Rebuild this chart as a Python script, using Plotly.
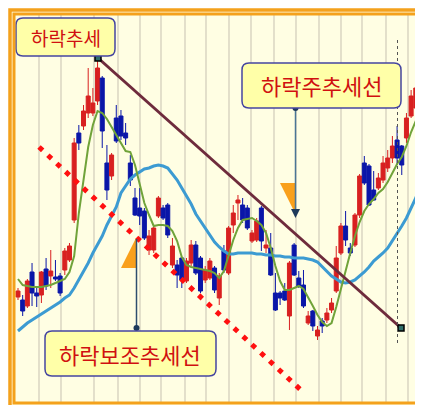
import plotly.graph_objects as go

W, H = 423, 405

# ---------------- data (price units = 400 - pixel row of the picture) ----------------
idx = list(range(87))
open_ = [111,108,102,136,115,113,139,132,131,132,138,148,188,275,282,295,295,307,330,245,
         232,290,292,275,245,210,200,197,158,158,192,200,203,143,143,150,127,145,163,150,
         128,130,140,110,157,135,183,205,203,200,167,168,200,160,160,115,115,117,92,163,
         130,123,85,97,72,87,88,98,117,155,182,160,163,193,245,242,218,220,228,240,
         250,268,262,270,292,300,312]
high_ = [120,113,129,145,120,137,150,158,148,135,160,165,270,283,303,340,320,350,332,263,
         255,303,298,285,253,220,220,200,178,182,212,203,205,170,148,150,150,168,167,152,
         142,150,142,135,163,182,203,213,210,203,178,190,202,178,175,135,117,125,147,165,
         137,138,97,98,82,90,100,110,162,185,197,165,195,234,252,244,237,235,252,258,
         272,282,263,295,318,325,330]
low_ = [108,92,100,102,101,105,118,120,127,112,133,146,185,258,278,290,292,303,260,208,
        228,265,268,263,222,192,183,168,153,155,190,188,170,140,120,120,125,142,133,115,
        125,128,115,103,135,133,175,188,185,178,165,166,157,155,132,97,103,107,78,132,
        120,100,83,77,68,75,85,95,115,153,162,152,161,190,223,202,207,218,225,236,
        245,243,233,265,290,295,303]
close_ = [117,97,127,115,112,136,122,137,129,115,157,162,265,265,297,312,305,340,277,218,
          253,267,272,270,228,193,192,170,172,180,210,190,173,162,133,128,147,163,135,117,
          138,147,118,132,138,180,195,208,188,180,175,187,167,163,133,98,110,108,145,133,
          122,102,92,82,78,82,95,105,150,182,168,155,193,232,225,203,208,230,245,250,
          262,250,243,290,312,320,305]
ma_short = [129,123,122,121,121,121,122,123,125,127,129,136,152,195,229,261,283,297,295,289,
            281,273,265,257,256,243,224,205,193,182,183,183,182,177,167,151,143,141,140,139,
            138,137,135,130,137,152,168,180,188,189,190,187,183,175,160,142,127,118,118,120,
            122,119,111,102,93,86,82,85,101,120,138,155,172,186,197,204,209,215,219,226,
            235,244,251,262,276,287,296]
ma_long = [77,81,85,88,91,94,97,100,103,106,110,113,120,128,136,145,155,164,172,183,
           192,201,215,222,229,233,236,239,240,242,243,242,240,234,228,220,212,204,194,187,
           179,173,166,161,157,154,154,155,155,155,155,154,154,153,153,152,152,151,151,150,
           150,150,149,148,146,141,137,132,129,126,125,126,128,132,136,141,147,151,155,160,
           167,174,182,190,200,210,223]

labels = ["하락추세", "하락주추세선", "하락보조추세선"]

# ---------------- pixel geometry helpers (layout only) ----------------
X0_PX, DX_PX = 10.0, 4.68          # pixel column of candle 0 and candle step


def dx(px):            # pixel column -> x data value
    return (px - X0_PX) / DX_PX


def dy(py):            # pixel row -> y data value
    return 400 - py


def PX(px):            # pixel column -> paper
    return px / W


def PY(py):            # pixel row -> paper
    return 1 - py / H


def rrect(x0, y0, x1, y1, r):
    p = lambda a, b: f"{PX(a):.5f},{PY(b):.5f}"
    return (f"M{p(x0+r,y0)} L{p(x1-r,y0)} Q{p(x1,y0)} {p(x1,y0+r)} "
            f"L{p(x1,y1-r)} Q{p(x1,y1)} {p(x1-r,y1)} L{p(x0+r,y1)} "
            f"Q{p(x0,y1)} {p(x0,y1-r)} L{p(x0,y0+r)} Q{p(x0,y0)} {p(x0+r,y0)} Z")


def poly(points):
    return "M" + " L".join(f"{PX(a):.5f},{PY(b):.5f}" for a, b in points) + " Z"


RED = "#D82020"
BLUE = "#0A16A8"

fig = go.Figure()

fig.add_trace(go.Candlestick(
    x=idx, open=open_, high=high_, low=low_, close=close_,
    increasing=dict(line=dict(color=RED, width=1), fillcolor=RED),
    decreasing=dict(line=dict(color=BLUE, width=1), fillcolor=BLUE),
    whiskerwidth=0, showlegend=False, hoverinfo="skip"))

fig.add_trace(go.Scatter(x=idx, y=ma_long, mode="lines",
                         line=dict(color="#3C9BD2", width=3), showlegend=False, hoverinfo="skip"))
fig.add_trace(go.Scatter(x=idx, y=ma_short, mode="lines",
                         line=dict(color="#70A33A", width=2), showlegend=False, hoverinfo="skip"))

# main down-trend line (maroon) with square end handles
fig.add_trace(go.Scatter(x=[dx(90), dx(393)], y=[dy(50), dy(320)], mode="lines+markers",
                         line=dict(color="#6E2B3C", width=3),
                         marker=dict(symbol="square", size=6, color="#2F6F6A",
                                     line=dict(color="#000000", width=1.5)),
                         showlegend=False, hoverinfo="skip"))

# auxiliary trend line (red diamonds)
fig.add_trace(go.Scatter(x=[dx(31), dx(295)], y=[dy(139), dy(384)], mode="lines",
                         line=dict(color="#FF1010", width=5, dash="5px,7.1px"),
                         showlegend=False, hoverinfo="skip"))

shapes = []
# cream background
shapes.append(dict(type="rect", xref="paper", yref="paper", x0=PX(4), y0=PY(4), x1=PX(417), y1=PY(398),
                   fillcolor="#FFFEE3", line=dict(width=0), layer="below"))
# vertical grid lines
for gx in [31, 53, 86, 110, 132, 153, 177, 198, 221, 243, 266, 288, 311, 333, 354, 378, 400]:
    shapes.append(dict(type="line", xref="paper", yref="paper", x0=PX(gx), x1=PX(gx),
                       y0=PY(6), y1=PY(395), line=dict(color="#DCD8C4", width=1.6), layer="below"))
# dotted vertical marker line
shapes.append(dict(type="line", xref="paper", yref="paper", x0=PX(389.5), x1=PX(389.5),
                   y0=PY(32), y1=PY(337), line=dict(color="#555555", width=1, dash="dot")))
# orange triangles
shapes.append(dict(type="path", xref="paper", yref="paper",
                   path=poly([(272, 175), (288, 175), (288, 207)]),
                   fillcolor="#F9A01B", line=dict(width=0)))
shapes.append(dict(type="path", xref="paper", yref="paper",
                   path=poly([(128, 230), (113, 260), (128, 260)]),
                   fillcolor="#F9A01B", line=dict(width=0)))
# connector 1 (하락주추세선)
shapes.append(dict(type="line", xref="paper", yref="paper", x0=PX(287.5), x1=PX(287.5),
                   y0=PY(100), y1=PY(203), line=dict(color="#4A7595", width=1.5)))
shapes.append(dict(type="path", xref="paper", yref="paper",
                   path=poly([(283, 201), (292, 201), (287.5, 210)]),
                   fillcolor="#1E3A5A", line=dict(width=0)))
shapes.append(dict(type="circle", xref="paper", yref="paper", x0=PX(284.5), x1=PX(290.5),
                   y0=PY(97), y1=PY(103), fillcolor="#1E3A5A", line=dict(width=0)))
# connector 2 (하락보조추세선)
shapes.append(dict(type="line", xref="paper", yref="paper", x0=PX(128.5), x1=PX(128.5),
                   y0=PY(231), y1=PY(320), line=dict(color="#2E4E6E", width=1.5)))
shapes.append(dict(type="circle", xref="paper", yref="paper", x0=PX(125.5), x1=PX(131.5),
                   y0=PY(317), y1=PY(323), fillcolor="#1E3A5A", line=dict(width=0)))
# label boxes
boxes = [(8, 10, 107, 48), (234, 55, 393, 100), (37, 323, 208, 368)]
for (x0, y0, x1, y1) in boxes:
    shapes.append(dict(type="path", xref="paper", yref="paper", path=rrect(x0, y0, x1, y1, 7),
                       fillcolor="#FFFFA8", line=dict(color="#4646A0", width=1.5)))
# orange double frame
shapes.append(dict(type="rect", xref="paper", yref="paper", x0=PX(2), y0=PY(2), x1=PX(419), y1=PY(400.5),
                   line=dict(color="#F4A11C", width=3.5)))
shapes.append(dict(type="rect", xref="paper", yref="paper", x0=PX(6), y0=PY(6), x1=PX(414.5), y1=PY(395),
                   line=dict(color="#F4A11C", width=3)))

annotations = []
sizes = [19, 22, 22]
for (x0, y0, x1, y1), txt, sz in zip(boxes, labels, sizes):
    annotations.append(dict(x=PX((x0 + x1) / 2), y=PY((y0 + y1) / 2), xref="paper", yref="paper",
                            text=txt, showarrow=False, xanchor="center", yanchor="middle",
                            font=dict(family="Noto Sans CJK KR", size=sz, color="#D01010")))

fig.update_layout(
    width=W, height=H, margin=dict(l=0, r=0, t=0, b=0),
    paper_bgcolor="#FFFFFF", plot_bgcolor="rgba(0,0,0,0)",
    boxgap=0.1, boxgroupgap=0.05,
    xaxis=dict(range=[dx(0), dx(W)], showgrid=False, zeroline=False, showticklabels=False,
               ticks="", rangeslider=dict(visible=False), fixedrange=True),
    yaxis=dict(range=[dy(H), dy(0)], showgrid=False, zeroline=False, showticklabels=False,
               ticks="", fixedrange=True),
    shapes=shapes, annotations=annotations, showlegend=False,
)

fig.write_html("out.html")
